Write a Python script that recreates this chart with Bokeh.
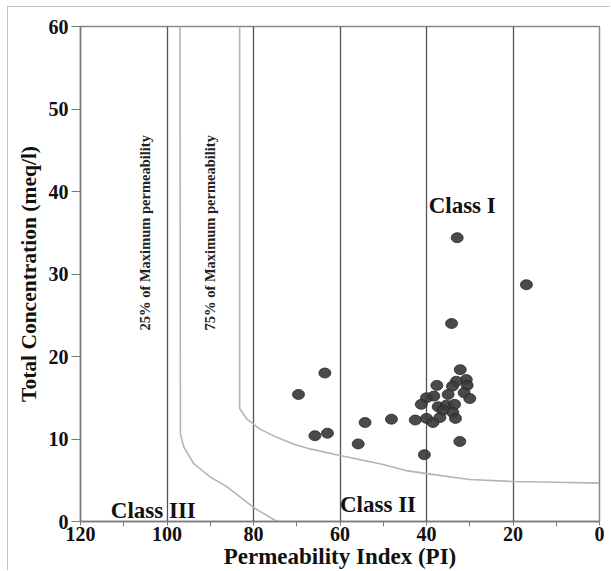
import math
from bokeh.plotting import figure
from bokeh.models import Range1d, FixedTicker, Label
from bokeh.embed import file_html
from bokeh.resources import INLINE

# ---- data ----
pi_values = [34.2, 63.5, 69.6, 65.8, 62.9, 55.8, 54.2, 48.1, 42.6, 40.5, 32.3,
             32.2, 30.8, 33.1, 34.0, 30.6, 31.3, 30.0, 37.6, 35.0, 40.0, 38.3,
             41.2, 37.3, 35.4, 33.5, 36.2, 33.9, 33.3, 40.0, 38.5, 36.9, 32.9, 16.9]
tc_values = [24.0, 18.0, 15.4, 10.4, 10.7, 9.4, 12.0, 12.4, 12.3, 8.1, 9.7,
             18.4, 17.2, 17.0, 16.4, 16.5, 15.6, 14.9, 16.5, 15.4, 15.0, 15.2,
             14.2, 13.9, 14.1, 14.2, 13.5, 13.2, 12.5, 12.5, 12.0, 12.6, 34.4, 28.7]

curve25_pi = [97.0, 96.9, 96.1, 93.8, 90.0, 86.1, 80.0, 74.6]
curve25_tc = [60.0, 10.6, 9.0, 7.0, 5.4, 4.2, 1.7, 0.0]

curve75_pi = [83.2, 83.2, 81.5, 78.5, 74.6, 70.8, 66.9, 60.0, 50.0, 45.0, 40.0, 30.0, 20.0, 10.0, 0.0]
curve75_tc = [60.0, 13.7, 12.4, 11.2, 10.2, 9.4, 8.8, 8.0, 6.9, 6.2, 5.8, 5.1, 4.85, 4.75, 4.65]

x_ticks = [0, 20, 40, 60, 80, 100, 120]
x_minor = [10, 30, 50, 70, 90, 110]
y_ticks = [0, 10, 20, 30, 40, 50, 60]

class_labels = ["Class I", "Class II", "Class III"]
class_x = [39.5, 60.0, 113.0]
class_y = [38.3, 2.1, 1.3]

perm_labels = ["25% of Maximum permeability", "75% of Maximum permeability"]
perm_x = [105.0, 90.0]
perm_y = [35.0, 35.0]

FONT = "Liberation Serif"

p = figure(width=603, height=564, output_backend="svg", toolbar_location=None,
           x_range=Range1d(120, 0), y_range=Range1d(0, 60),
           min_border_left=72, min_border_right=12, min_border_top=19, min_border_bottom=50)
p.styles = {"margin-left": "7px", "margin-top": "6px",
            "border-left": "1px solid #c4c4c4", "border-top": "1px solid #c4c4c4"}
p.background_fill_color = "white"
p.border_fill_color = "white"
p.outline_line_color = "#8a8a8a"
p.outline_line_width = 1.5

# axes
p.xaxis.ticker = FixedTicker(ticks=x_ticks, minor_ticks=x_minor)
p.yaxis.ticker = FixedTicker(ticks=y_ticks)
for ax in (p.xaxis[0], p.yaxis[0]):
    ax.axis_line_color = "#7a7a7a"
    ax.axis_line_width = 1.5
    ax.major_tick_line_color = "#7a7a7a"
    ax.minor_tick_line_color = "#7a7a7a"
    ax.major_tick_in = 0
    ax.minor_tick_in = 0
    ax.major_label_text_font = FONT
    ax.major_label_text_font_style = "bold"
    ax.major_label_text_font_size = "20px"
    ax.major_label_text_color = "#111111"
    ax.axis_label_text_font = FONT
    ax.axis_label_text_font_style = "bold"
    ax.axis_label_text_color = "#111111"

p.xaxis.axis_label = "Permeability Index (PI)"
p.xaxis.axis_label_text_font_size = "23px"
p.xaxis.major_tick_out = 4
p.xaxis.minor_tick_out = 5
p.xaxis.major_label_standoff = 0
p.xaxis.axis_label_standoff = 0

p.yaxis.axis_label = "Total Concentration (meq/l)"
p.yaxis.axis_label_text_font_size = "21.5px"
p.yaxis.major_tick_out = 9
p.yaxis.minor_tick_out = 0
p.yaxis.major_label_standoff = 3
p.yaxis.axis_label_standoff = 5

p.xgrid.ticker = FixedTicker(ticks=x_ticks)
p.xgrid.grid_line_color = "#555555"
p.xgrid.grid_line_width = 1.3
p.ygrid.grid_line_color = None

# permeability curves
p.line(curve25_pi, curve25_tc, line_color="#b5b5b5", line_width=1.6)
p.line(curve75_pi, curve75_tc, line_color="#b5b5b5", line_width=1.6)

# points
p.ellipse(x=pi_values, y=tc_values, width=12, height=10,
          width_units="screen", height_units="screen",
          fill_color="#3b3b3b", fill_alpha=0.92, line_color="#2b2b2b", line_width=0.8)

# class labels
for t, x, y in zip(class_labels, class_x, class_y):
    p.add_layout(Label(x=x, y=y, text=t, text_font=FONT, text_font_style="bold",
                       text_font_size="23px", text_color="#111111",
                       text_align="left", text_baseline="alphabetic"))

for t, x, y in zip(perm_labels, perm_x, perm_y):
    p.add_layout(Label(x=x, y=y, text=t, text_font=FONT, text_font_style="bold",
                       text_font_size="14.5px", text_color="#222222", angle=math.pi / 2,
                       text_align="center", text_baseline="middle"))

open("out.html", "w").write(file_html(p, INLINE))
